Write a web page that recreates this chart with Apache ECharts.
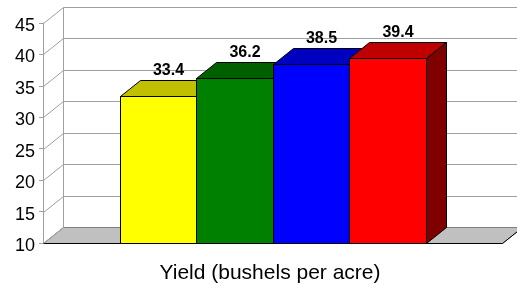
<!DOCTYPE html>
<html><head><meta charset="utf-8">
<script src="https://cdn.jsdelivr.net/npm/echarts@6/dist/echarts.min.js"></script>
<style>html,body{margin:0;padding:0;background:#fff}#c{width:517px;height:286px}</style>
</head><body><div id="c"></div>
<script>
// ---- data ----
const categories = ['Bar 1', 'Bar 2', 'Bar 3', 'Bar 4'];
const yieldValues = [33.4, 36.2, 38.5, 39.4];
const yTicks = [10, 15, 20, 25, 30, 35, 40, 45];
const axisTitle = 'Yield (bushels per acre)';

// ---- styles ----
const frontColors = ['#ffff00', '#008000', '#0000ff', '#ff0000'];
const topColors = ['#c0c000', '#006000', '#0000c0', '#c00000'];
const sideColors = ['#808000', '#004000', '#000080', '#800000'];
const DX = 20, DY = -16;
const X_MIN = -1, X_MAX = 5;
const Y_MIN = 10, Y_MAX = 45;
const GRID_COLOR = '#a0a0a0';

function px(v) { return Math.round(v) + 0.5; }

function renderWalls(params, api) {
  const children = [];
  const xl = px(api.coord([X_MIN, Y_MIN])[0]);
  const xr = px(api.coord([X_MAX, Y_MIN])[0]);
  const yb = px(api.coord([X_MIN, Y_MIN])[1]);
  const yt = px(api.coord([X_MIN, Y_MAX])[1]);
  children.push({ type: 'polygon', shape: { points: [[xl, yb], [xr, yb], [xr + DX, yb + DY], [xl + DX, yb + DY]] },
    style: { fill: '#c0c0c0', stroke: '#808080', lineWidth: 1 } });
  children.push({ type: 'line', shape: { x1: xl, y1: yb, x2: xr, y2: yb }, style: { stroke: '#000', lineWidth: 1 } });
  children.push({ type: 'line', shape: { x1: xr, y1: yb, x2: xr + DX, y2: yb + DY }, style: { stroke: '#000', lineWidth: 1 } });
  children.push({ type: 'line', shape: { x1: xl + DX, y1: yb + DY, x2: xl + DX, y2: yt + DY }, style: { stroke: GRID_COLOR, lineWidth: 1 } });
  yTicks.forEach(function (t) {
    const y = px(api.coord([X_MIN, t])[1]);
    children.push({ type: 'line', shape: { x1: xl, y1: y, x2: xl + DX, y2: y + DY }, style: { stroke: GRID_COLOR, lineWidth: 1 } });
    if (t > Y_MIN) {
      children.push({ type: 'line', shape: { x1: xl + DX, y1: y + DY, x2: xr + DX, y2: y + DY }, style: { stroke: GRID_COLOR, lineWidth: 1 } });
    }
  });
  return { type: 'group', children: children };
}

function renderBar(params, api) {
  const i = api.value(0), v = api.value(1), k = params.dataIndex;
  const a = api.coord([i, Y_MIN]), b = api.coord([i + 1, v]);
  const x0 = px(a[0]), x1 = px(b[0]), yb = px(a[1]), yt = px(b[1]);
  const st = { stroke: '#000', lineWidth: 1 };
  return { type: 'group', children: [
    { type: 'polygon', shape: { points: [[x0, yt], [x1, yt], [x1, yb], [x0, yb]] }, style: Object.assign({ fill: frontColors[k] }, st) },
    { type: 'polygon', shape: { points: [[x0, yt], [x0 + DX, yt + DY], [x1 + DX, yt + DY], [x1, yt]] }, style: Object.assign({ fill: topColors[k] }, st) },
    { type: 'polygon', shape: { points: [[x1, yt], [x1 + DX, yt + DY], [x1 + DX, yb + DY], [x1, yb]] }, style: Object.assign({ fill: sideColors[k] }, st) },
    { type: 'text', x: (x0 + x1) / 2 + DX / 2, y: yt + DY - 10,
      style: { text: v.toFixed(1), align: 'center', verticalAlign: 'middle', fontFamily: 'Arial, Liberation Sans', fontWeight: 'bold', fontSize: 16, fill: '#000' } }
  ] };
}

const chart = echarts.init(document.getElementById('c'), null, { renderer: 'canvas' });
chart.setOption({
  animation: false,
  backgroundColor: '#fff',
  grid: { left: 43, top: 23, right: 15, bottom: 43, containLabel: false, outerBoundsMode: 'none' },
  xAxis: {
    type: 'value', min: X_MIN, max: X_MAX,
    axisLine: { show: false, onZero: false }, axisTick: { show: false }, axisLabel: { show: false }, splitLine: { show: false },
    name: axisTitle, nameLocation: 'middle', nameGap: 20,
    nameTextStyle: { fontFamily: 'Arial, Liberation Sans', fontSize: 21, color: '#000', padding: [0, 5, 0, 0] }
  },
  yAxis: {
    type: 'value', min: Y_MIN, max: Y_MAX, interval: 5,
    axisLine: { show: true, onZero: false, lineStyle: { color: GRID_COLOR } },
    axisTick: { show: true, length: 4, lineStyle: { color: GRID_COLOR } },
    axisLabel: { fontFamily: 'Arial, Liberation Sans', fontSize: 18, color: '#000', margin: 8, verticalAlign: 'top', lineHeight: 6 },
    splitLine: { show: false }
  },
  series: [
    { type: 'custom', name: 'walls', renderItem: renderWalls, data: [[0, Y_MIN]], encode: { x: 0, y: 1 }, z: 1, silent: true },
    { type: 'custom', name: 'Yield', renderItem: renderBar,
      data: yieldValues.map(function (v, i) { return { name: categories[i], value: [i, v] }; }),
      encode: { x: 0, y: 1 }, z: 3 }
  ]
});
</script>
</body></html>
